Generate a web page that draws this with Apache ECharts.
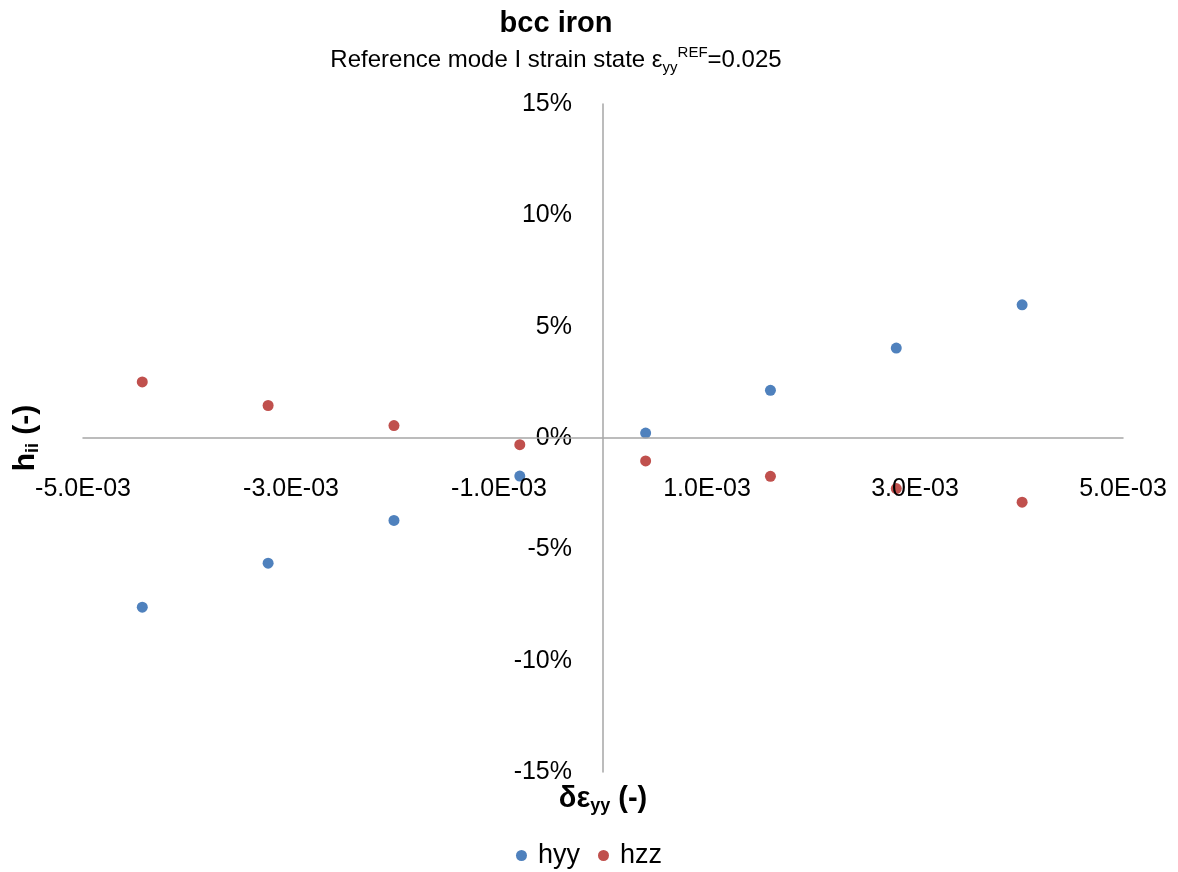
<!DOCTYPE html>
<html>
<head>
<meta charset="utf-8">
<script src="https://cdn.jsdelivr.net/npm/echarts@6/dist/echarts.min.js"></script>
<style>
  html, body { margin: 0; padding: 0; background: #fff; }
  #chart { width: 1178px; height: 872px; }
</style>
</head>
<body>
<div id="chart"></div>
<script>
// strain increment (x) and the two h components (as fractions, shown in %)
const deltaEps = [-4.43e-3, -3.22e-3, -2.01e-3, -0.80e-3, 0.41e-3, 1.61e-3, 2.82e-3, 4.03e-3];
const hyy = [-0.0760, -0.0562, -0.0370, -0.0171, 0.0022, 0.0214, 0.0404, 0.0598];
const hzz = [0.0252, 0.0146, 0.0056, -0.0030, -0.0103, -0.0172, -0.0227, -0.0288];
const seriesNames = ["hyy", "hzz"];

const font = "Liberation Sans";
const axisColor = "#a6a6a6";

// grid box; both axes cross in the middle (x = 0, y = 0)
const gridLeft = 83, gridRight = 55, gridTop = 104, gridBottom = 100;
const gridW = 1178 - gridLeft - gridRight;
const gridH = 872 - gridTop - gridBottom;

const chart = echarts.init(document.getElementById("chart"));

const option = {
  textStyle: { fontFamily: font },
  title: {
    left: 551,
    top: 4,
    textAlign: "center",
    text: "bcc iron",
    textStyle: { fontFamily: font, fontSize: 29, fontWeight: "bold", color: "#000" },
    subtext: "Reference mode I strain state ε{sub|yy}{sup|REF}=0.025",
    itemGap: 7,
    subtextStyle: {
      fontFamily: font, fontSize: 24, color: "#000", lineHeight: 30,
      rich: {
        sub: { fontFamily: font, fontSize: 15, color: "#000", verticalAlign: "bottom", lineHeight: 15, padding: [12, 0, 0, 0] },
        sup: { fontFamily: font, fontSize: 15, color: "#000", verticalAlign: "top", lineHeight: 15, padding: [0, 0, 10, 0] }
      }
    }
  },
  legend: {
    data: seriesNames,
    left: "center",
    top: 837,
    icon: "circle",
    itemWidth: 11,
    itemHeight: 11,
    itemGap: 18,
    textStyle: { fontFamily: font, fontSize: 27, color: "#000", padding: [0, 0, 0, 6] }
  },
  grid: { left: gridLeft, right: gridRight, top: gridTop, bottom: gridBottom, containLabel: false, outerBoundsMode: "none" },
  xAxis: {
    type: "value",
    min: -0.005,
    max: 0.005,
    interval: 0.002,
    z: 5,
    offset: -gridH / 2,
    axisLine: { onZero: false, lineStyle: { color: axisColor, width: 1.5 } },
    axisTick: { show: false },
    splitLine: { show: false },
    axisLabel: {
      margin: 39,
      fontFamily: font, fontSize: 25, color: "#000",
      formatter: v => (v * 1000).toFixed(1) + "E-03"
    },
    name: "δε{sub|yy} (-)",
    nameLocation: "middle",
    nameGap: 345,
    nameTextStyle: {
      fontFamily: font, fontSize: 29, fontWeight: "bold", color: "#000",
      rich: { sub: { fontFamily: font, fontSize: 18, fontWeight: "bold", color: "#000", verticalAlign: "bottom", padding: [14, 0, 0, 0] } }
    }
  },
  yAxis: {
    type: "value",
    min: -0.15,
    max: 0.15,
    interval: 0.05,
    offset: -gridW / 2,
    axisLine: { onZero: false, lineStyle: { color: axisColor, width: 1.5 } },
    axisTick: { show: false },
    splitLine: { show: false },
    axisLabel: {
      margin: 31,
      fontFamily: font, fontSize: 25, color: "#000",
      formatter: v => Math.round(v * 100) + "%"
    },
    name: "h{sub|ii} (-)",
    nameLocation: "middle",
    nameRotate: 90,
    nameGap: 561,
    nameTextStyle: {
      fontFamily: font, fontSize: 30, fontWeight: "bold", color: "#000",
      rich: { sub: { fontFamily: font, fontSize: 18, fontWeight: "bold", color: "#000", verticalAlign: "bottom", padding: [14, 0, 0, 0] } }
    }
  },
  series: [
    {
      name: seriesNames[0],
      type: "scatter",
      symbolSize: 11,
      itemStyle: { color: "#4f81bd", opacity: 1 },
      data: deltaEps.map((x, i) => [x, hyy[i]])
    },
    {
      name: seriesNames[1],
      type: "scatter",
      symbolSize: 11,
      itemStyle: { color: "#c0504d", opacity: 1 },
      data: deltaEps.map((x, i) => [x, hzz[i]])
    }
  ]
};

chart.setOption(option);
</script>
</body>
</html>
